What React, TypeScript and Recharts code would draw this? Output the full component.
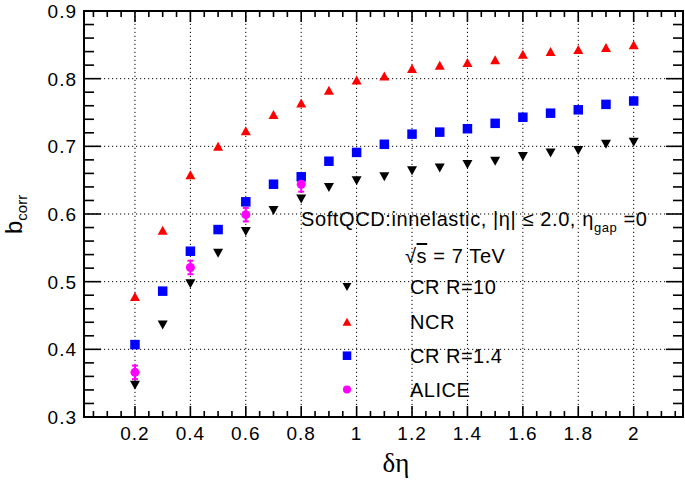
import React from "react";
import { ScatterChart, Scatter, XAxis, YAxis, ReferenceLine, ReferenceArea, ErrorBar, Legend } from "recharts";

// delta-eta bins
const deltaEta = [0.2, 0.3, 0.4, 0.5, 0.6, 0.7, 0.8, 0.9, 1.0, 1.1, 1.2, 1.3, 1.4, 1.5, 1.6, 1.7, 1.8, 1.9, 2.0];
const crR10 = [0.347, 0.436, 0.497, 0.542, 0.574, 0.605, 0.622, 0.639, 0.649, 0.655, 0.664, 0.668, 0.673, 0.678, 0.685, 0.690, 0.694, 0.703, 0.706];
const ncr = [0.478, 0.576, 0.658, 0.700, 0.723, 0.747, 0.764, 0.783, 0.798, 0.804, 0.815, 0.820, 0.824, 0.828, 0.836, 0.840, 0.843, 0.846, 0.850];
const crR14 = [0.407, 0.486, 0.545, 0.577, 0.618, 0.644, 0.655, 0.678, 0.691, 0.703, 0.718, 0.721, 0.726, 0.734, 0.743, 0.749, 0.754, 0.762, 0.767];

const aliceDeltaEta = [0.2, 0.4, 0.6, 0.8];
const alice = [0.366, 0.521, 0.599, 0.644];
const aliceErr = [0.010, 0.010, 0.010, 0.011];

const seriesNames = ["CR R=10", "NCR", "CR R=1.4", "ALICE"];

const xMajor = [0.2, 0.4, 0.6, 0.8, 1.0, 1.2, 1.4, 1.6, 1.8, 2.0];
const xLabels = ["0.2", "0.4", "0.6", "0.8", "1", "1.2", "1.4", "1.6", "1.8", "2"];
const yMajor = [0.3, 0.4, 0.5, 0.6, 0.7, 0.8, 0.9];
const yLabels = ["0.3", "0.4", "0.5", "0.6", "0.7", "0.8", "0.9"];
const yGrid = [0.4, 0.5, 0.6, 0.7, 0.8];

const X_MIN = 0.016;
const X_MAX = 2.178;
const Y_MIN = 0.3;
const Y_MAX = 0.9;

// minor ticks every 0.05 in x, 0.02 in y
const xTicks: number[] = [];
for (let i = 1; i * 0.05 < X_MAX; i++) xTicks.push(Number((i * 0.05).toFixed(2)));
const yTicks: number[] = [];
for (let i = 0; i <= 30; i++) yTicks.push(Number((0.3 + i * 0.02).toFixed(2)));

const W = 685;
const H = 482;
const margin = { top: 11, right: 2, bottom: 35, left: 24 };
const PLOT_W = W - margin.left - margin.right - 60;
const PLOT_H = H - margin.top - margin.bottom - 30;

const FONT = "'Liberation Sans', Arial, Helvetica, sans-serif";

const toPoints = (xs: number[], ys: number[]) => xs.map((x, i) => ({ x, y: ys[i] }));
const crR10Data = toPoints(deltaEta, crR10);
const ncrData = toPoints(deltaEta, ncr);
const crR14Data = toPoints(deltaEta, crR14);
const aliceData = aliceDeltaEta.map((x, i) => ({ x, y: alice[i], err: aliceErr[i] }));

const isMajor = (list: number[], v: number) => list.findIndex((m) => Math.abs(m - v) < 1e-6);

const XTick = (props: any) => {
  const { x, y, payload } = props;
  const idx = isMajor(xMajor, payload.value);
  const len = idx >= 0 ? 11 : 6;
  return (
    <g>
      <line x1={x} x2={x} y1={y} y2={y - len} stroke="#000" strokeWidth={1.6} />
      <line x1={x} x2={x} y1={y - PLOT_H} y2={y - PLOT_H + len} stroke="#000" strokeWidth={1.6} />
      {idx >= 0 && (
        <text x={x} y={y + 23} textAnchor="middle" fontFamily={FONT} fontSize={19} letterSpacing={1} fill="#000">
          {xLabels[idx]}
        </text>
      )}
    </g>
  );
};

const YTick = (props: any) => {
  const { x, y, payload } = props;
  const idx = isMajor(yMajor, payload.value);
  const len = idx >= 0 ? 17 : 10;
  return (
    <g>
      <line x1={x} x2={x + len} y1={y} y2={y} stroke="#000" strokeWidth={1.6} />
      <line x1={x + PLOT_W} x2={x + PLOT_W - len} y1={y} y2={y} stroke="#000" strokeWidth={1.6} />
      {idx >= 0 && (
        <text x={x - 7} y={y} dy="0.36em" textAnchor="end" fontFamily={FONT} fontSize={19} letterSpacing={1} fill="#000">
          {yLabels[idx]}
        </text>
      )}
    </g>
  );
};

const marker = (kind: string, cx: number, cy: number, s: number) => {
  if (kind === "down") {
    return <polygon points={`${cx - s},${cy - s * 0.9} ${cx + s},${cy - s * 0.9} ${cx},${cy + s * 0.9}`} fill="#000000" />;
  }
  if (kind === "up") {
    return <polygon points={`${cx - s},${cy + s * 0.9} ${cx + s},${cy + s * 0.9} ${cx},${cy - s * 0.9}`} fill="#ff0000" />;
  }
  if (kind === "square") {
    return <rect x={cx - s * 0.95} y={cy - s * 0.95} width={s * 1.9} height={s * 1.9} fill="#0000ff" />;
  }
  return <circle cx={cx} cy={cy} r={s * 0.9} fill="#ff00ff" />;
};

const kinds = ["down", "up", "square", "circle"];

const renderLegend = (props: any) => {
  const items = [...(props.payload || [])].sort(
    (a: any, b: any) => seriesNames.indexOf(a.value) - seriesNames.indexOf(b.value)
  );
  const rowY = [287, 321.7, 355.7, 389.5];
  return (
    <svg width={W} height={H} style={{ position: "absolute", left: 0, top: 0, overflow: "visible", pointerEvents: "none" }}>
      {items.map((entry: any, i: number) => (
        <g key={entry.value}>
          {marker(kinds[seriesNames.indexOf(entry.value)], 347, rowY[i], 4.5)}
          <text x={410} y={rowY[i] + 7} fontFamily={FONT} fontSize={20} letterSpacing={0.5} fill="#000">
            {entry.value}
          </text>
        </g>
      ))}
    </svg>
  );
};

export default function App() {
  return (
    <div style={{ position: "absolute", left: 0, top: 0, width: W, height: H, background: "#fff" }}>
      <ScatterChart width={W} height={H} margin={margin}>
        <XAxis
          type="number"
          dataKey="x"
          domain={[X_MIN, X_MAX]}
          allowDataOverflow
          ticks={xTicks}
          interval={0}
          tick={(p: any) => <XTick {...p} />}
          tickLine={false}
          axisLine={false}
          tickSize={0}
          tickMargin={0}
          height={30}
        />
        <YAxis
          type="number"
          dataKey="y"
          domain={[Y_MIN, Y_MAX]}
          allowDataOverflow
          ticks={yTicks}
          interval={0}
          tick={(p: any) => <YTick {...p} />}
          tickLine={false}
          axisLine={false}
          tickSize={0}
          tickMargin={0}
          width={60}
        />
        {xMajor.map((v) => (
          <ReferenceLine key={`gx${v}`} x={v} stroke="#000" strokeWidth={1} strokeDasharray="1.2 2.8" />
        ))}
        {yGrid.map((v) => (
          <ReferenceLine key={`gy${v}`} y={v} stroke="#000" strokeWidth={1} strokeDasharray="1.2 2.8" />
        ))}
        <ReferenceArea x1={X_MIN} x2={X_MAX} y1={Y_MIN} y2={Y_MAX} fill="none" fillOpacity={0} stroke="#000" strokeWidth={2} />
        <Scatter name={seriesNames[0]} data={crR10Data} fill="#000000" isAnimationActive={false} shape={(p: any) => marker("down", p.cx, p.cy, 5)} />
        <Scatter name={seriesNames[1]} data={ncrData} fill="#ff0000" isAnimationActive={false} shape={(p: any) => marker("up", p.cx, p.cy, 5)} />
        <Scatter name={seriesNames[2]} data={crR14Data} fill="#0000ff" isAnimationActive={false} shape={(p: any) => marker("square", p.cx, p.cy, 5)} />
        <Scatter name={seriesNames[3]} data={aliceData} fill="#ff00ff" isAnimationActive={false} shape={(p: any) => marker("circle", p.cx, p.cy, 5)}>
          <ErrorBar dataKey="err" direction="y" stroke="#ff00ff" strokeWidth={2} width={3} isAnimationActive={false} />
        </Scatter>
        <Legend content={renderLegend} wrapperStyle={{ position: "absolute", left: 0, top: 0, width: 0, height: 0 }} />
      </ScatterChart>
      <svg width={W} height={H} style={{ position: "absolute", left: 0, top: 0, pointerEvents: "none" }}>
        <text x={301} y={226} fontFamily={FONT} fontSize={20} letterSpacing={0.6} fill="#000">
          SoftQCD:innelastic, |η| ≤ 2.0, η
          <tspan fontSize={13} dy={6}>gap</tspan>
          <tspan dy={-6}> =0</tspan>
        </text>
        <text x={405} y={263} fontFamily={FONT} fontSize={20} letterSpacing={0.6} fill="#000">
          √<tspan style={{ textDecoration: "overline" }}>s</tspan> = 7 TeV
        </text>
        <text transform="translate(22,234) rotate(-90)" fontFamily={FONT} fontSize={24} fill="#000">
          b<tspan fontSize={15} dy={5}>corr</tspan>
        </text>
        <text x={396} y={472} textAnchor="middle" fontFamily="'Liberation Serif', 'DejaVu Serif', serif" fontSize={27} fill="#000">
          δη
        </text>
      </svg>
    </div>
  );
}
